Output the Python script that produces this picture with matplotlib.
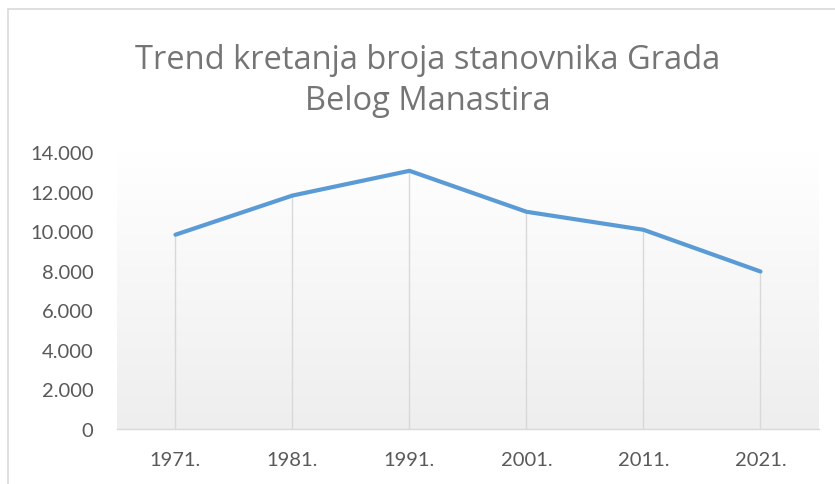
import matplotlib.pyplot as plt
import numpy as np
from matplotlib.patches import Rectangle
from matplotlib.colors import LinearSegmentedColormap

# podaci
godine = ["1971.", "1981.", "1991.", "2001.", "2011.", "2021."]
stanovnici = [9820, 11800, 13050, 10980, 10070, 7960]
y_ticks = [0, 2000, 4000, 6000, 8000, 10000, 12000, 14000]

fig = plt.figure(figsize=(8.35, 4.85), dpi=100)
ax = fig.add_axes([0.1401, 0.1134, 0.8407, 0.5711])

# okvir grafikona
fig.patches.append(Rectangle((8 / 835, -0.1), 1.2, (485 - 10) / 485 + 0.1,
                             transform=fig.transFigure, fill=False,
                             edgecolor="#d9d9d9", linewidth=1.2))

x = np.arange(len(godine))

# gradijent pozadine (bijelo gore, sivo dolje)
grad = np.linspace(0, 1, 256).reshape(-1, 1)
cmap = LinearSegmentedColormap.from_list("g", ["#ffffff", "#eeeeee"])
ax.imshow(grad, cmap=cmap, aspect="auto", origin="upper",
          extent=[-0.5, len(godine) - 0.5, 0, 14000], zorder=0)

ax.vlines(x, 0, stanovnici, colors="#d9d9d9", linewidth=1.0, zorder=1)
ax.plot(x, stanovnici, color="#5b9bd5", linewidth=3.0, solid_capstyle="round",
        solid_joinstyle="round", zorder=3)

ax.set_xlim(-0.5, len(godine) - 0.5)
ax.set_ylim(0, 14000)

for s in ["top", "right", "left"]:
    ax.spines[s].set_visible(False)
ax.spines["bottom"].set_color("#d9d9d9")
ax.spines["bottom"].set_linewidth(1.0)

ax.set_xticks(x)
ax.set_xticklabels(godine)
ax.set_yticks(y_ticks)
ax.set_yticklabels([f"{v:,}".replace(",", ".") for v in y_ticks])
ax.tick_params(axis="both", length=0, colors="#595959", labelsize=14.5)
ax.tick_params(axis="y", pad=17)
ax.tick_params(axis="x", pad=16)
for lab in ax.get_xticklabels() + ax.get_yticklabels():
    lab.set_fontfamily("Lato")

fig.text(0.512, 0.834, "Trend kretanja broja stanovnika Grada\nBelog Manastira",
         ha="center", va="center", fontsize=23.5, color="#757575",
         family="Open Sans", linespacing=1.32)

plt.savefig("out.png", dpi=100)
